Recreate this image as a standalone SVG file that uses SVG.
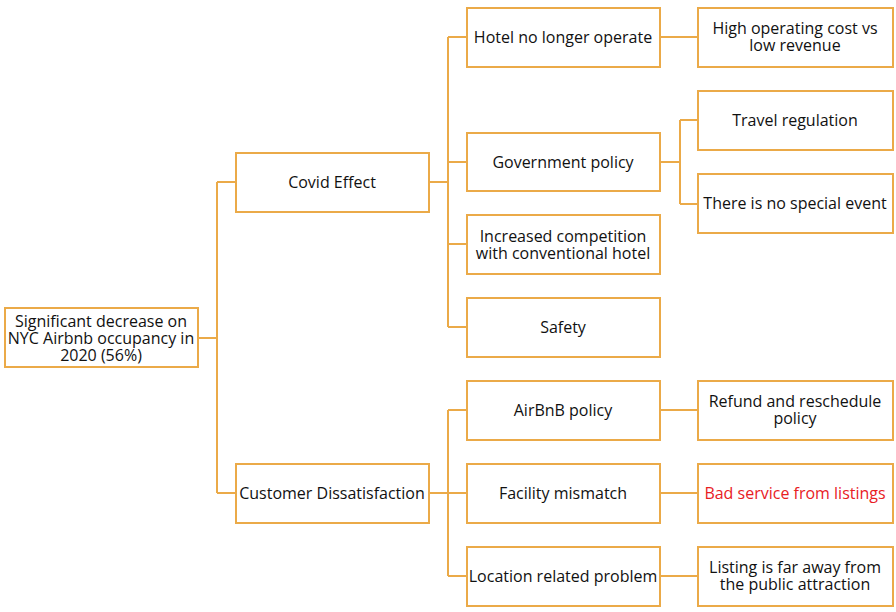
<svg xmlns="http://www.w3.org/2000/svg" width="896" height="612" viewBox="0 0 896 612">
<style>
rect{fill:#fff;stroke:#EBAA48;stroke-width:2}
.c path{fill:none;stroke:#EBAA48;stroke-width:2}
text{font-family:"Open Sans","DejaVu Sans",sans-serif;font-size:16px;fill:#111;text-anchor:middle;dominant-baseline:central}
</style>
<rect x="0" y="0" width="896" height="612" style="stroke:none"/>
<g class="c" id="connectors">
<path d="M198 338H217M217 182V493M217 182H236M217 493H236"/>
<path d="M429 182H448M448 37V327M448 37H467M448 162H467M448 244H467M448 327H467"/>
<path d="M429 493H448M448 410V576M448 410H467M448 493H467M448 576H467"/>
<path d="M660 37H698M660 410H698M660 493H698M660 576H698"/>
<path d="M660 162H680M680 120V204M680 120H698M680 204H698"/>
</g>
<g id="root"><rect x="5" y="308" width="193" height="59"/><text x="101" y="321">Significant decrease on</text><text x="101" y="338">NYC Airbnb occupancy in</text><text x="101" y="355">2020 (56%)</text></g>
<g id="covid"><rect x="236" y="153" width="193" height="59"/><text x="332" y="182">Covid Effect</text></g>
<g id="customer"><rect x="236" y="464" width="193" height="59"/><text x="332" y="493">Customer Dissatisfaction</text></g>
<g id="hotel"><rect x="467" y="8" width="193" height="59"/><text x="563" y="37">Hotel no longer operate</text></g>
<g id="government"><rect x="467" y="133" width="193" height="58"/><text x="563" y="162">Government policy</text></g>
<g id="competition"><rect x="467" y="215" width="193" height="59"/><text x="563" y="236">Increased competition</text><text x="563" y="253">with conventional hotel</text></g>
<g id="safety"><rect x="467" y="298" width="193" height="59"/><text x="563" y="327">Safety</text></g>
<g id="airbnb"><rect x="467" y="381" width="193" height="59"/><text x="563" y="410">AirBnB policy</text></g>
<g id="facility"><rect x="467" y="464" width="193" height="59"/><text x="563" y="493">Facility mismatch</text></g>
<g id="location"><rect x="467" y="547" width="193" height="59"/><text x="563" y="576">Location related problem</text></g>
<g id="cost"><rect x="698" y="8" width="195" height="59"/><text x="795" y="28">High operating cost vs</text><text x="795" y="45">low revenue</text></g>
<g id="travel"><rect x="698" y="91" width="195" height="59"/><text x="795" y="120">Travel regulation</text></g>
<g id="event"><rect x="698" y="174" width="195" height="59"/><text x="795" y="203">There is no special event</text></g>
<g id="refund"><rect x="698" y="381" width="195" height="59"/><text x="795" y="401">Refund and reschedule</text><text x="795" y="418">policy</text></g>
<g id="service"><rect x="698" y="464" width="195" height="59"/><text x="795" y="493" style="fill:#E8201F">Bad service from listings</text></g>
<g id="listing"><rect x="698" y="547" width="195" height="59"/><text x="795" y="567">Listing is far away from</text><text x="795" y="584">the public attraction</text></g>
</svg>
